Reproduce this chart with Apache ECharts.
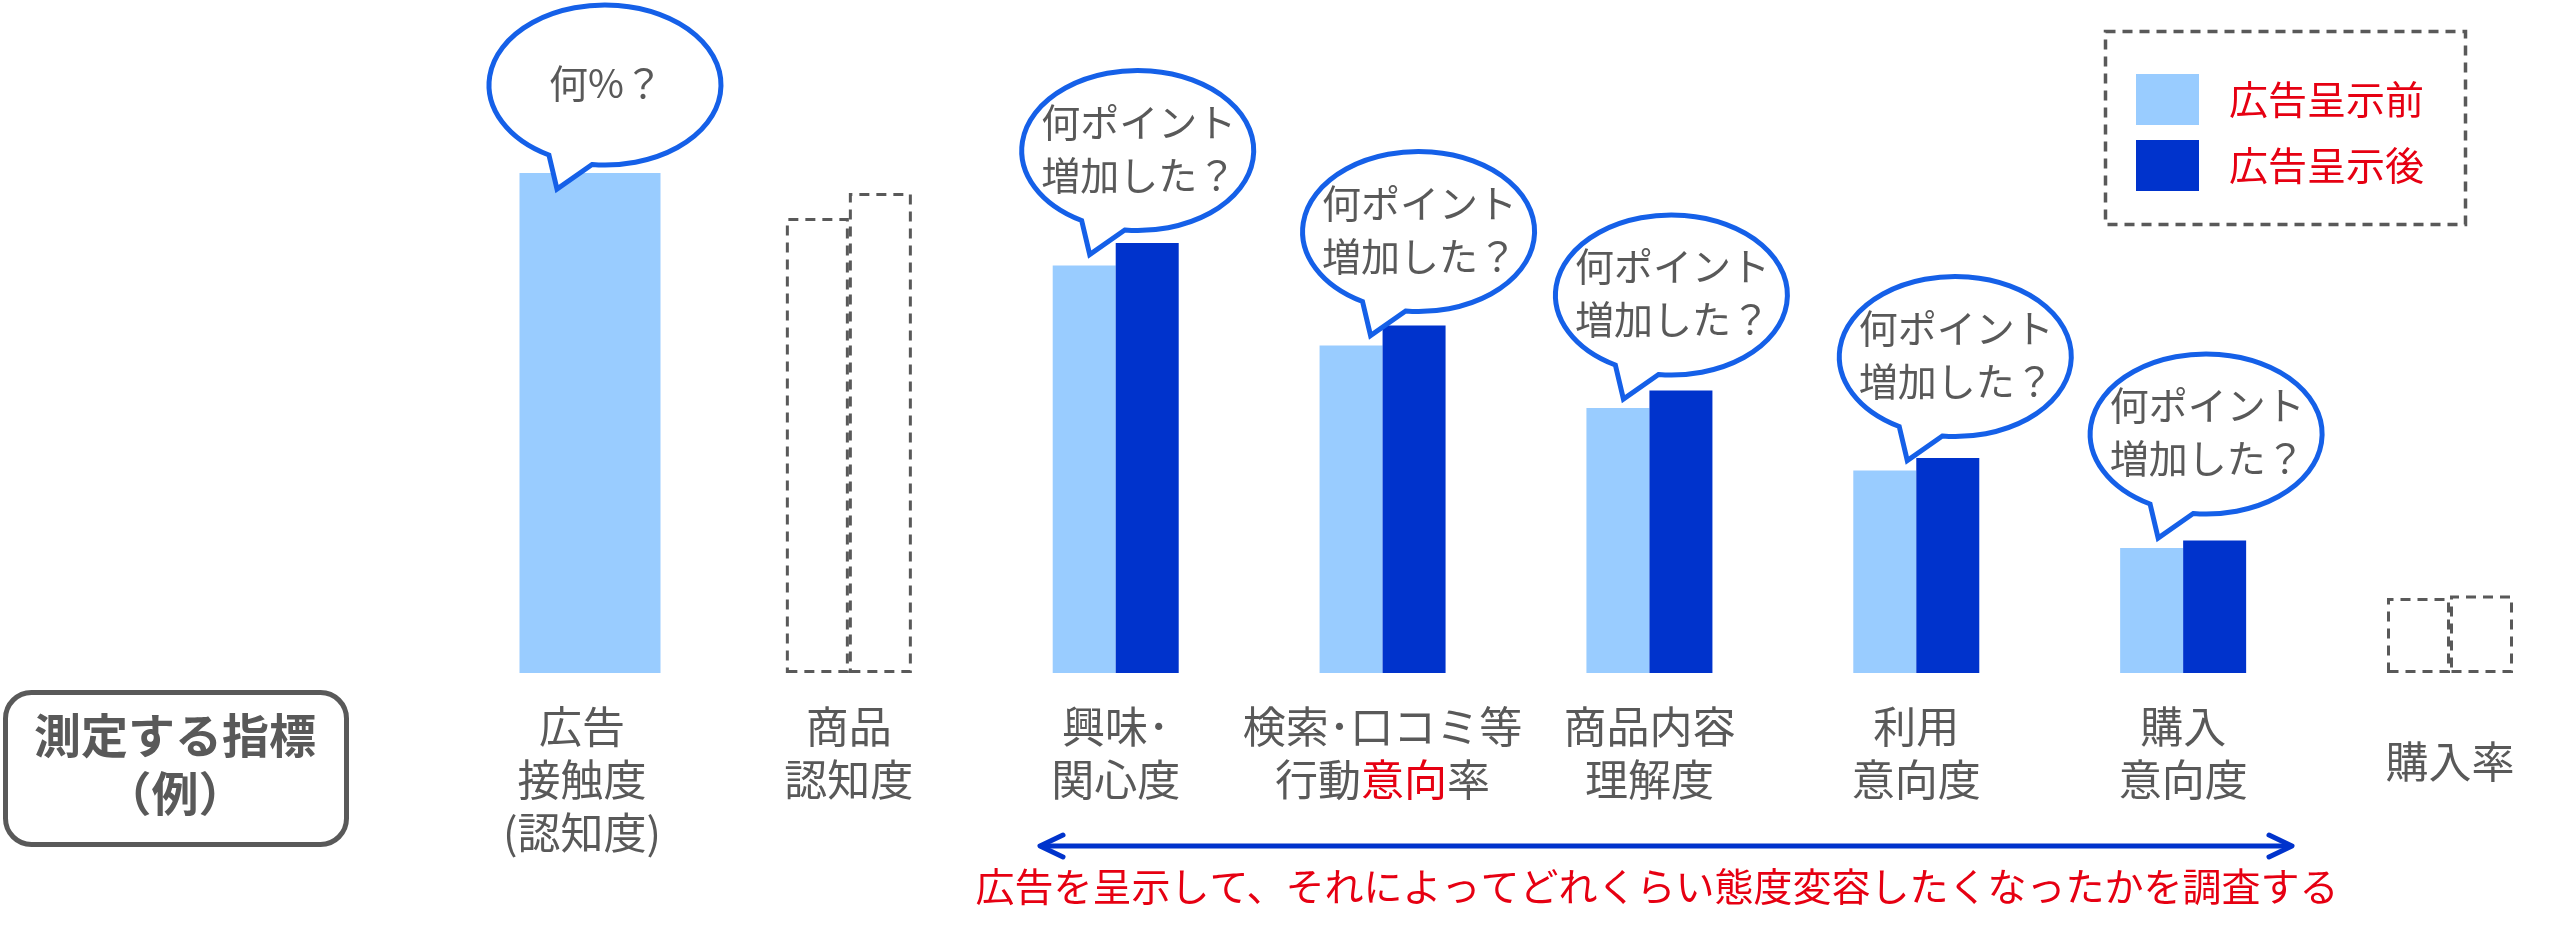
<!DOCTYPE html>
<html>
<head>
<meta charset="utf-8">
<script src="https://cdn.jsdelivr.net/npm/echarts@6/dist/echarts.min.js"></script>
<style>
html,body{margin:0;padding:0;background:#fff;}
#c{width:2560px;height:941px;}
</style>
</head>
<body>
<div id="c"></div>
<script>
// ---------------- data ----------------
const categories = ['広告\n接触度\n(認知度)', '商品\n認知度', '興味･\n関心度', '検索･口コミ等\n行動意向率', '商品内容\n理解度', '利用\n意向度', '購入\n意向度', '購入率'];
const beforeValues = [100, 91, 81.5, 65.5, 53, 40.5, 25, 15];
const afterValues  = [null, 96, 86, 69.5, 56.5, 43, 26.5, 15.5];
const dashedCats = [1, 7];
const bubbleTexts = ['何%？', null, '何ポイント\n増加した？', '何ポイント\n増加した？', '何ポイント\n増加した？', '何ポイント\n増加した？', '何ポイント\n増加した？', null];
const legendNames = ['広告呈示前', '広告呈示後'];
const boxTitle = '測定する指標\n（例）';
const arrowNote = '広告を呈示して、それによってどれくらい態度変容したくなったかを調査する';
const redWord = '意向';

// ---------------- style / layout ----------------
const FONT = '"Noto Sans CJK JP", "Noto Sans", sans-serif';
const GRAY = '#595959', RED = '#E60012', LIGHT = '#99CCFF', DARK = '#0033CC', BUBBLE = '#1560E8';
// tail tip offset from the "before" bar top (dx from category centre, dy)
const bubbleTip = {0: [-25, 16], 2: [-26, -11], 3: [-12, -10], 4: [-26, -9], 5: [-9, -10], 6: [-25, -10]};

function dashedStyle() {
  return {color: 'rgba(0,0,0,0)', borderColor: GRAY, borderWidth: 3, borderType: [10, 7]};
}
const lightData = beforeValues.map((v, i) => i === 0 ? null : (dashedCats.includes(i) ? {value: v, itemStyle: dashedStyle()} : v));
const darkData = afterValues.map((v, i) => v == null ? null : (dashedCats.includes(i) ? {value: v, itemStyle: dashedStyle()} : v));
const wideData = beforeValues.map((v, i) => i === 0 ? v : null);
const placeholderData = beforeValues.map(() => null);
const bubbleData = [];
bubbleTexts.forEach((t, i) => { if (t) bubbleData.push([i, beforeValues[i]]); });

const xData = categories.map(c => c === '購入率' ? {value: c, textStyle: {lineHeight: 123}} : c);

const chart = echarts.init(document.getElementById('c'), null, {renderer: 'canvas'});

function renderBubble(params, api) {
  const ci = api.value(0);
  const p = api.coord([ci, api.value(1)]);
  const off = bubbleTip[ci] || [-20, -10];
  const tx = p[0] + off[0], ty = p[1] + off[1];
  const cx = tx + 48, cy = ty - 104;
  const rx = 116, ry = 80;
  const aR = 96.4 * Math.PI / 180, aL = 118.9 * Math.PI / 180;
  const Rx = cx + rx * Math.cos(aR), Ry = cy + ry * Math.sin(aR);
  const Lx = cx + rx * Math.cos(aL), Ly = cy + ry * Math.sin(aL);
  const d = 'M' + Rx + ' ' + Ry + ' A' + rx + ' ' + ry + ' 0 1 0 ' + Lx + ' ' + Ly + ' L' + tx + ' ' + ty + ' Z';
  return {
    type: 'group',
    children: [
      {type: 'path', shape: {pathData: d}, style: {fill: '#fff', stroke: BUBBLE, lineWidth: 5, lineJoin: 'miter'}},
      {type: 'text', x: cx + 1, y: cy - 2, style: {
        text: bubbleTexts[ci], fill: GRAY, fontSize: 39, fontFamily: FONT,
        align: 'center', verticalAlign: 'middle', lineHeight: 53
      }}
    ]
  };
}

const option = {
  backgroundColor: '#fff',
  animation: false,
  grid: {left: 582, right: 110, top: 73, bottom: 268, containLabel: false, outerBoundsMode: 'none'},
  legend: {
    data: legendNames, orient: 'vertical', left: 2136, top: 74, padding: 0,
    itemWidth: 63, itemHeight: 51, itemGap: 15, icon: 'rect', selectedMode: false,
    textStyle: {color: RED, fontSize: 39, fontFamily: FONT, padding: [0, 0, 0, 25]}
  },
  xAxis: [
    {
      type: 'category', data: xData, boundaryGap: false,
      axisLine: {show: false}, axisTick: {show: false}, splitLine: {show: false},
      axisLabel: {
        interval: 0, margin: 27, color: GRAY, fontSize: 43, fontFamily: FONT, lineHeight: 53,
        formatter: v => v.replace('行動' + redWord + '率', '行動{r|' + redWord + '}率'),
        rich: {r: {color: RED, fontSize: 43, fontFamily: FONT, lineHeight: 53}}
      }
    },
    {type: 'category', data: categories, boundaryGap: false, show: false}
  ],
  yAxis: {type: 'value', min: 0, max: 120, show: false},
  series: [
    {name: legendNames[0], type: 'bar', xAxisIndex: 0, data: lightData, barWidth: 63, barGap: '0%', clip: false, itemStyle: {color: LIGHT}},
    {name: legendNames[1], type: 'bar', xAxisIndex: 0, data: darkData, barWidth: 63, barGap: '0%', clip: false, itemStyle: {color: DARK}},
    {name: 'spacer', type: 'bar', xAxisIndex: 1, data: placeholderData, barWidth: 16, barGap: '0%', clip: false, itemStyle: {color: 'rgba(0,0,0,0)'}},
    {name: legendNames[0], type: 'bar', xAxisIndex: 1, data: wideData, barWidth: 141, barGap: '0%', clip: false, itemStyle: {color: LIGHT}},
    {type: 'custom', xAxisIndex: 0, data: bubbleData, renderItem: renderBubble, clip: false, z: 10, silent: true}
  ],
  graphic: [
    {type: 'rect', shape: {x: 5.5, y: 692.5, width: 341, height: 152, r: 26}, style: {fill: '#fff', stroke: GRAY, lineWidth: 5}},
    {type: 'text', x: 175, y: 764, style: {text: boxTitle, fill: GRAY, fontSize: 47, fontWeight: 'bold', fontFamily: FONT, align: 'center', verticalAlign: 'middle', lineHeight: 58}},
    {type: 'rect', shape: {x: 2105.5, y: 31.5, width: 360, height: 193}, style: {fill: 'none', stroke: GRAY, lineWidth: 3.5, lineDash: [10, 7]}},
    {type: 'line', shape: {x1: 1041, y1: 846, x2: 2291, y2: 846}, style: {stroke: DARK, lineWidth: 5}},
    {type: 'polyline', shape: {points: [[1063, 835], [1040, 846], [1063, 857]]}, style: {stroke: DARK, lineWidth: 5, fill: 'none', lineCap: 'round', lineJoin: 'round'}},
    {type: 'polyline', shape: {points: [[2269, 835], [2292, 846], [2269, 857]]}, style: {stroke: DARK, lineWidth: 5, fill: 'none', lineCap: 'round', lineJoin: 'round'}},
    {type: 'text', x: 1657, y: 886, style: {text: arrowNote, fill: RED, fontSize: 39, fontFamily: FONT, align: 'center', verticalAlign: 'middle'}}
  ]
};
chart.setOption(option);
</script>
</body>
</html>
